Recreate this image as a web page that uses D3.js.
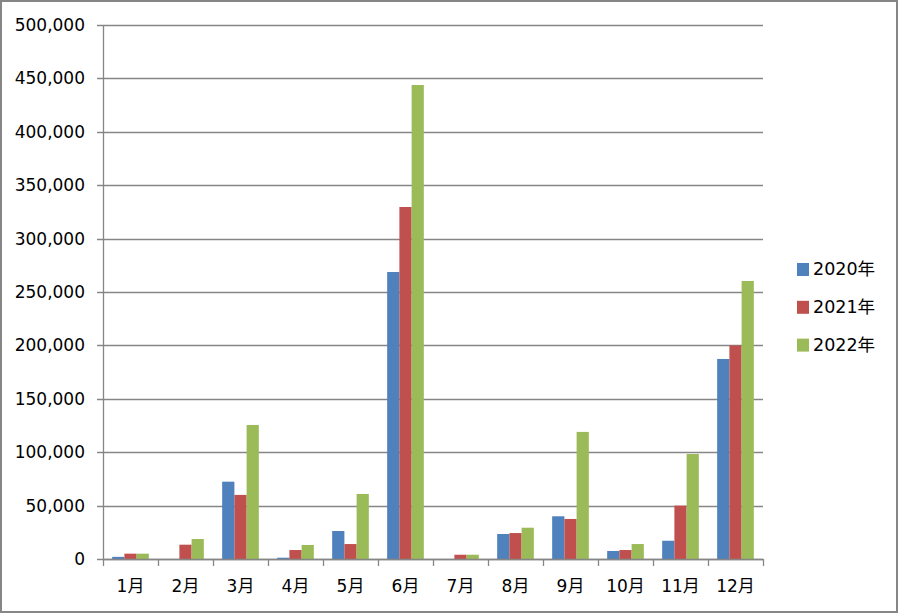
<!DOCTYPE html>
<html><head><meta charset="utf-8">
<script src="https://cdn.jsdelivr.net/npm/d3@7"></script>
<style>body{margin:0;background:#fff}svg text{font-family:"DejaVu Sans","Noto Sans CJK JP",sans-serif;fill:#000}</style>
</head><body>
<svg id="c" width="900" height="615"></svg>
<script>
const months = ["1月","2月","3月","4月","5月","6月","7月","8月","9月","10月","11月","12月"];
const seriesNames = ["2020年","2021年","2022年"];
const colors = ["#4F81BD","#C0504D","#9BBB59"];
const v2020 = [2000,0,72400,1200,26200,268700,0,23400,40000,7500,17100,187300];
const v2021 = [5000,13400,60000,8400,14000,329600,4000,24300,37500,8400,50000,200000];
const v2022 = [5000,18700,125500,13100,60900,443800,4000,29300,119000,14000,98300,260300];
const yTicks = [0,50000,100000,150000,200000,250000,300000,350000,400000,450000,500000];
const values = [v2020, v2021, v2022];

const svg = d3.select("#c");
svg.append("rect").attr("x",1).attr("y",1).attr("width",896).attr("height",611)
  .attr("fill","#fff").attr("stroke","#868686").attr("stroke-width",2);

const L = 103, R = 763, T = 25, B = 559;
const x = d3.scaleBand().domain(months).range([L,R]);
const y = d3.scaleLinear().domain([0,500000]).range([B,T]);
const bw = x.bandwidth()/4.5;
const xs = d3.scaleBand().domain(seriesNames).range([bw*0.75, bw*3.75]);

// gridlines
svg.append("g").selectAll("line").data(yTicks).join("line")
  .attr("x1",L-6).attr("x2",R).attr("y1",d=>Math.round(y(d))+0.5).attr("y2",d=>Math.round(y(d))+0.5)
  .attr("stroke","#868686").attr("stroke-width",1.3);

// bars
values.forEach((vals,si)=>{
  svg.append("g").selectAll("rect").data(vals).join("rect")
    .attr("x",(d,i)=>x(months[i])+xs(seriesNames[si]))
    .attr("width",xs.bandwidth())
    .attr("y",d=>y(d)).attr("height",d=>B-y(d))
    .attr("fill",colors[si]);
});

// y axis
const yAxis = d3.axisLeft(y).tickValues(yTicks).tickSize(0).tickPadding(18)
  .tickFormat(d3.format(","));
const ga = svg.append("g").attr("transform",`translate(${L},0)`).call(yAxis);
ga.select(".domain").remove();
ga.selectAll("text").attr("font-size",17).attr("font-family","DejaVu Sans");
svg.append("line").attr("x1",L+0.5).attr("x2",L+0.5).attr("y1",T).attr("y2",B)
  .attr("stroke","#868686").attr("stroke-width",1.3);

// x axis
svg.append("line").attr("x1",L).attr("x2",R).attr("y1",B+0.5).attr("y2",B+0.5)
  .attr("stroke","#868686").attr("stroke-width",1.3);
const xt = months.map(m=>x(m)).concat([R]);
svg.append("g").selectAll("line").data(xt).join("line")
  .attr("x1",d=>d+0.5).attr("x2",d=>d+0.5).attr("y1",B).attr("y2",B+7)
  .attr("stroke","#868686").attr("stroke-width",1.3);
const xAxis = d3.axisBottom(x).tickSize(0).tickPadding(21);
const gx = svg.append("g").attr("transform",`translate(0,${B})`).call(xAxis);
gx.select(".domain").remove();
gx.selectAll("text").attr("font-size",17).attr("font-family","DejaVu Sans, Noto Sans CJK JP");

// legend
const lg = svg.append("g").selectAll("g").data(seriesNames).join("g")
  .attr("transform",(d,i)=>`translate(797,${263+i*37.8})`);
lg.append("rect").attr("width",12).attr("height",13).attr("fill",(d,i)=>colors[i]);
lg.append("text").attr("x",16).attr("y",12).attr("font-size",17.5).text(d=>d);
</script>
</body></html>
